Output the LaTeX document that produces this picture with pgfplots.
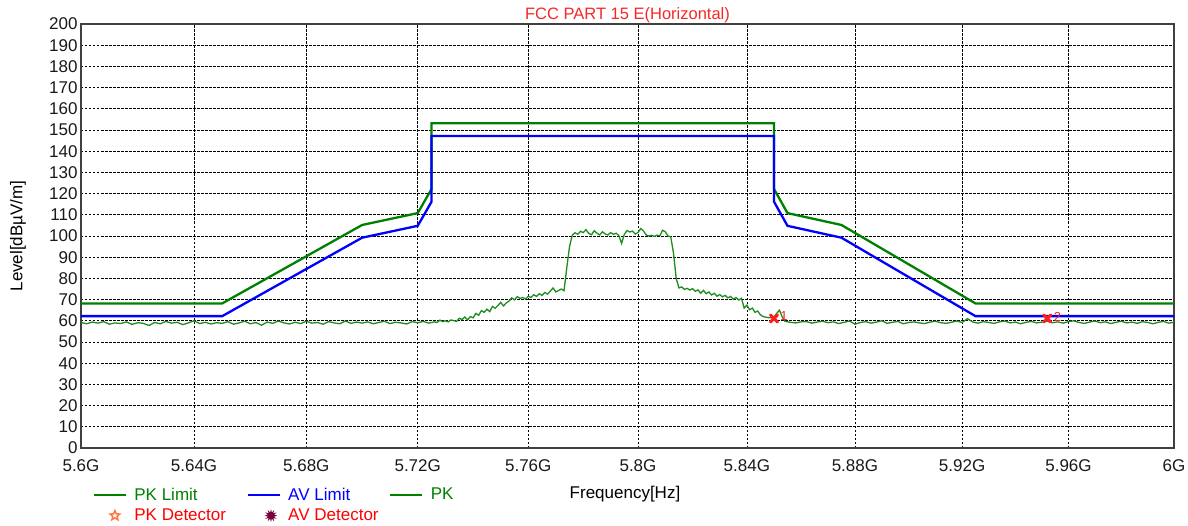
\documentclass[border=0pt]{standalone}
\usepackage{fontspec}
\setmainfont{Liberation Sans}
\usepackage{pgfplots}
\pgfplotsset{compat=1.18}
\usetikzlibrary{shapes.geometric}

\definecolor{pklimit}{RGB}{0,128,0}
\definecolor{avlimit}{RGB}{0,0,255}
\definecolor{trace}{RGB}{30,140,30}
\definecolor{titlered}{RGB}{245,40,40}
\definecolor{markred}{RGB}{255,30,30}
\definecolor{starorange}{RGB}{255,120,60}
\definecolor{burst}{RGB}{120,0,60}
\newcommand\chartfont{\fontsize{17}{20}\selectfont}

% Limit lines (dBuV/m) versus frequency (GHz)
\pgfplotstableread{
f      pk
5.600  68.2
5.650  68.2
5.700  105.2
5.720  110.8
5.725  122.2
5.725  153.2
5.850  153.2
5.850  122.2
5.855  110.8
5.875  105.2
5.925  68.2
6.000  68.2
}\pklimit

\pgfplotstableread{
f      av
5.600  62.2
5.650  62.2
5.700  99.2
5.720  104.8
5.725  116.2
5.725  147.2
5.850  147.2
5.850  116.2
5.855  104.8
5.875  99.2
5.925  62.2
6.000  62.2
}\avlimit

% Peak sweep
\pgfplotstableread{
f      pk
5.600  59.2
5.602  58.6
5.604  59.4
5.606  58.9
5.608  59.6
5.610  58.4
5.612  59.0
5.614  58.7
5.616  59.5
5.618  58.3
5.620  59.1
5.622  58.8
5.624  57.8
5.626  59.2
5.628  58.6
5.630  59.7
5.632  58.9
5.634  59.3
5.636  58.2
5.638  59.0
5.640  60.0
5.642  58.7
5.644  59.3
5.646  58.5
5.648  59.1
5.650  58.8
5.652  59.6
5.654  58.4
5.656  59.0
5.658  59.8
5.660  58.6
5.662  59.2
5.664  57.9
5.666  59.4
5.668  58.8
5.670  59.9
5.672  59.0
5.674  58.5
5.676  59.3
5.678  58.7
5.680  59.8
5.682  58.9
5.684  59.2
5.686  58.4
5.688  59.6
5.690  59.0
5.692  58.6
5.694  59.9
5.696  58.8
5.698  59.4
5.700  58.9
5.702  59.5
5.704  58.6
5.706  59.2
5.708  59.8
5.710  58.7
5.712  59.3
5.714  59.0
5.716  58.5
5.718  59.6
5.720  59.1
5.722  59.7
5.724  58.9
5.726  59.5
5.727  59.2
5.728  60.3
5.729  59.6
5.730  60.0
5.731  59.5
5.732  60.4
5.733  60.1
5.734  59.7
5.735  61.2
5.736  60.6
5.737  61.8
5.738  60.4
5.739  62.0
5.740  61.4
5.741  63.5
5.742  62.6
5.743  64.8
5.744  64.0
5.745  65.5
5.746  64.3
5.747  66.8
5.748  65.9
5.749  67.2
5.750  68.7
5.751  67.0
5.752  68.4
5.753  69.3
5.754  70.8
5.755  69.9
5.756  71.4
5.757  70.6
5.758  71.0
5.759  70.3
5.760  71.6
5.761  71.0
5.762  72.3
5.763  71.5
5.764  72.8
5.765  72.0
5.766  73.4
5.767  72.6
5.768  74.0
5.769  75.5
5.770  73.6
5.771  74.3
5.772  75.0
5.773  74.2
5.774  85.0
5.775  95.0
5.776  100.4
5.777  101.5
5.778  100.8
5.779  102.2
5.780  101.6
5.781  103.0
5.782  101.2
5.783  100.6
5.784  102.5
5.785  101.3
5.786  100.5
5.787  102.0
5.788  101.0
5.789  100.5
5.790  101.6
5.791  100.8
5.792  101.3
5.793  100.2
5.794  96.5
5.795  100.8
5.796  102.6
5.797  101.9
5.798  102.3
5.799  100.9
5.800  101.7
5.801  103.5
5.802  102.4
5.803  100.5
5.804  100.0
5.805  100.3
5.806  99.8
5.807  100.4
5.808  100.1
5.809  102.7
5.810  102.0
5.811  100.0
5.812  99.6
5.813  92.0
5.814  80.0
5.815  75.5
5.816  76.0
5.817  74.8
5.818  75.3
5.819  74.5
5.820  75.2
5.821  73.9
5.822  74.6
5.823  73.0
5.824  74.4
5.825  72.8
5.826  73.6
5.827  72.2
5.828  73.0
5.829  71.6
5.830  72.4
5.831  71.3
5.832  72.0
5.833  70.8
5.834  71.5
5.835  70.2
5.836  71.0
5.837  69.8
5.838  70.6
5.839  66.0
5.840  67.4
5.841  65.2
5.842  66.0
5.843  64.0
5.844  64.6
5.845  62.8
5.846  62.0
5.847  61.7
5.848  61.5
5.849  61.4
5.850  61.8
5.851  63.5
5.852  65.0
5.853  62.0
5.854  59.8
5.856  59.3
5.858  59.0
5.860  59.5
5.862  59.6
5.864  58.9
5.866  59.4
5.868  59.8
5.870  59.1
5.872  59.5
5.874  58.7
5.876  59.3
5.878  59.9
5.880  58.4
5.882  59.2
5.884  59.6
5.886  58.9
5.888  59.4
5.890  60.0
5.892  58.8
5.894  59.3
5.896  59.7
5.898  58.6
5.900  59.2
5.902  59.5
5.904  59.0
5.906  58.7
5.908  59.4
5.910  59.8
5.912  59.1
5.914  58.8
5.916  59.3
5.918  59.9
5.920  59.2
5.922  61.0
5.924  59.4
5.926  58.9
5.928  59.6
5.930  59.2
5.932  58.8
5.934  59.5
5.936  59.9
5.938  59.0
5.940  59.4
5.942  58.6
5.944  59.3
5.946  59.7
5.948  59.0
5.950  59.4
5.952  59.8
5.954  59.1
5.956  59.5
5.958  58.9
5.960  59.6
5.962  60.0
5.964  59.2
5.966  58.8
5.968  59.4
5.970  59.9
5.972  59.1
5.974  59.5
5.976  58.7
5.978  59.3
5.980  59.8
5.982  59.0
5.984  59.4
5.986  58.8
5.988  59.6
5.990  59.2
5.992  58.6
5.994  59.3
5.996  59.7
5.998  58.9
6.000  59.3
}\pktrace

\begin{document}
\begin{tikzpicture}
\begin{axis}[
  scale only axis,
  width=1093pt, height=424pt,
  % the analyser's frequency scale is slightly compressed towards the top end
  x coord trafo/.code={\pgfmathparse{(#1-5.6)*2.8375-0.2625*(#1-5.6)^2}},
  xmin=5.6, xmax=6.0, ymin=0, ymax=200,
  xtick={5.6,5.64,5.68,5.72,5.76,5.8,5.84,5.88,5.92,5.96,6.0},
  xticklabels={5.6G,5.64G,5.68G,5.72G,5.76G,5.8G,5.84G,5.88G,5.92G,5.96G,6G},
  ytick={0,10,...,200},
  major tick length=0pt,
  grid=major,
  major grid style={black, line width=0.7pt, dash pattern=on 2.5pt off 1.5pt},
  axis line style={draw=black!75, line width=1.1pt},
  /pgf/number format/assume math mode=true,
  tick label style={font=\chartfont, text=black!90},
  xticklabel style={yshift=-8pt},
  title={FCC PART 15 E(Horizontal)},
  title style={font=\fontsize{16.5}{19}\selectfont, text=titlered, at={(0.5,1)}, anchor=center, yshift=3pt},
  xlabel={Frequency[Hz]},
  xlabel style={font=\chartfont, at={(axis description cs:0.4977,-0.108)}, anchor=center},
  ylabel={Level[dB\textmu V/m]},
  ylabel style={font=\chartfont, at={(axis description cs:-0.0576,0.5)}, anchor=center},
  legend columns=3,
  legend style={draw=none, fill=none, font=\chartfont,
    at={(axis description cs:0,-0.0873)}, anchor=north west, xshift=11.5pt,
    inner sep=0pt, row sep=2.5pt,
    nodes={inner sep=2.5pt, anchor=west},
    /tikz/every odd column/.append style={column sep=5pt},
    /tikz/column 2/.style={column sep=18pt},
    /tikz/column 4/.style={column sep=8pt}},
  legend cell align=left,
  clip=true,
]
\addplot[pklimit, line width=2.3pt, forget plot] table[x=f, y=pk] {\pklimit};
\addplot[avlimit, line width=2.3pt, forget plot] table[x=f, y=av] {\avlimit};
\addplot[trace, line width=1.3pt, forget plot] table[x=f, y=pk] {\pktrace};
\addplot[only marks, mark=x, mark size=5pt, markred, line width=3pt,
  mark options={line cap=round},
  point meta=explicit symbolic, nodes near coords,
  nodes near coords style={font=\fontsize{13}{15}\selectfont, text=markred, anchor=west, xshift=4pt, yshift=2pt, inner sep=1pt},
  forget plot]
  coordinates {(5.850,61.1) [1] (5.952,61.1) [2]};

\addlegendimage{legend image code/.code={\draw[pklimit, line width=2.2pt] (0pt,0pt) -- (32pt,0pt);}}
\addlegendentry{\textcolor{pklimit}{PK Limit}}
\addlegendimage{legend image code/.code={\draw[avlimit, line width=2.2pt] (0pt,0pt) -- (32pt,0pt);}}
\addlegendentry{\textcolor{avlimit}{AV Limit}}
\addlegendimage{legend image code/.code={\draw[pklimit, line width=2.2pt] (0pt,0pt) -- (32pt,0pt);}}
\addlegendentry{\textcolor{pklimit}{PK}}
\addlegendimage{legend image code/.code={\path[draw=none] (0pt,0pt) -- (32pt,0pt);
  \node[star, star points=5, star point ratio=2.2, draw=starorange, fill=white, line width=1.5pt, minimum size=10pt, inner sep=0pt] at (17pt,0pt) {};}}
\addlegendentry{\textcolor{red}{PK Detector}}
\addlegendimage{legend image code/.code={\path[draw=none] (0pt,0pt) -- (32pt,0pt);
  \node[star, star points=12, star point ratio=2, fill=burst, draw=none, minimum size=13pt, inner sep=0pt] at (16pt,0pt) {};}}
\addlegendentry{\textcolor{red}{AV Detector}}
\end{axis}
\pgfresetboundingbox
\path (-81pt,-77pt) rectangle (1107pt,448pt);
\end{tikzpicture}
\end{document}
